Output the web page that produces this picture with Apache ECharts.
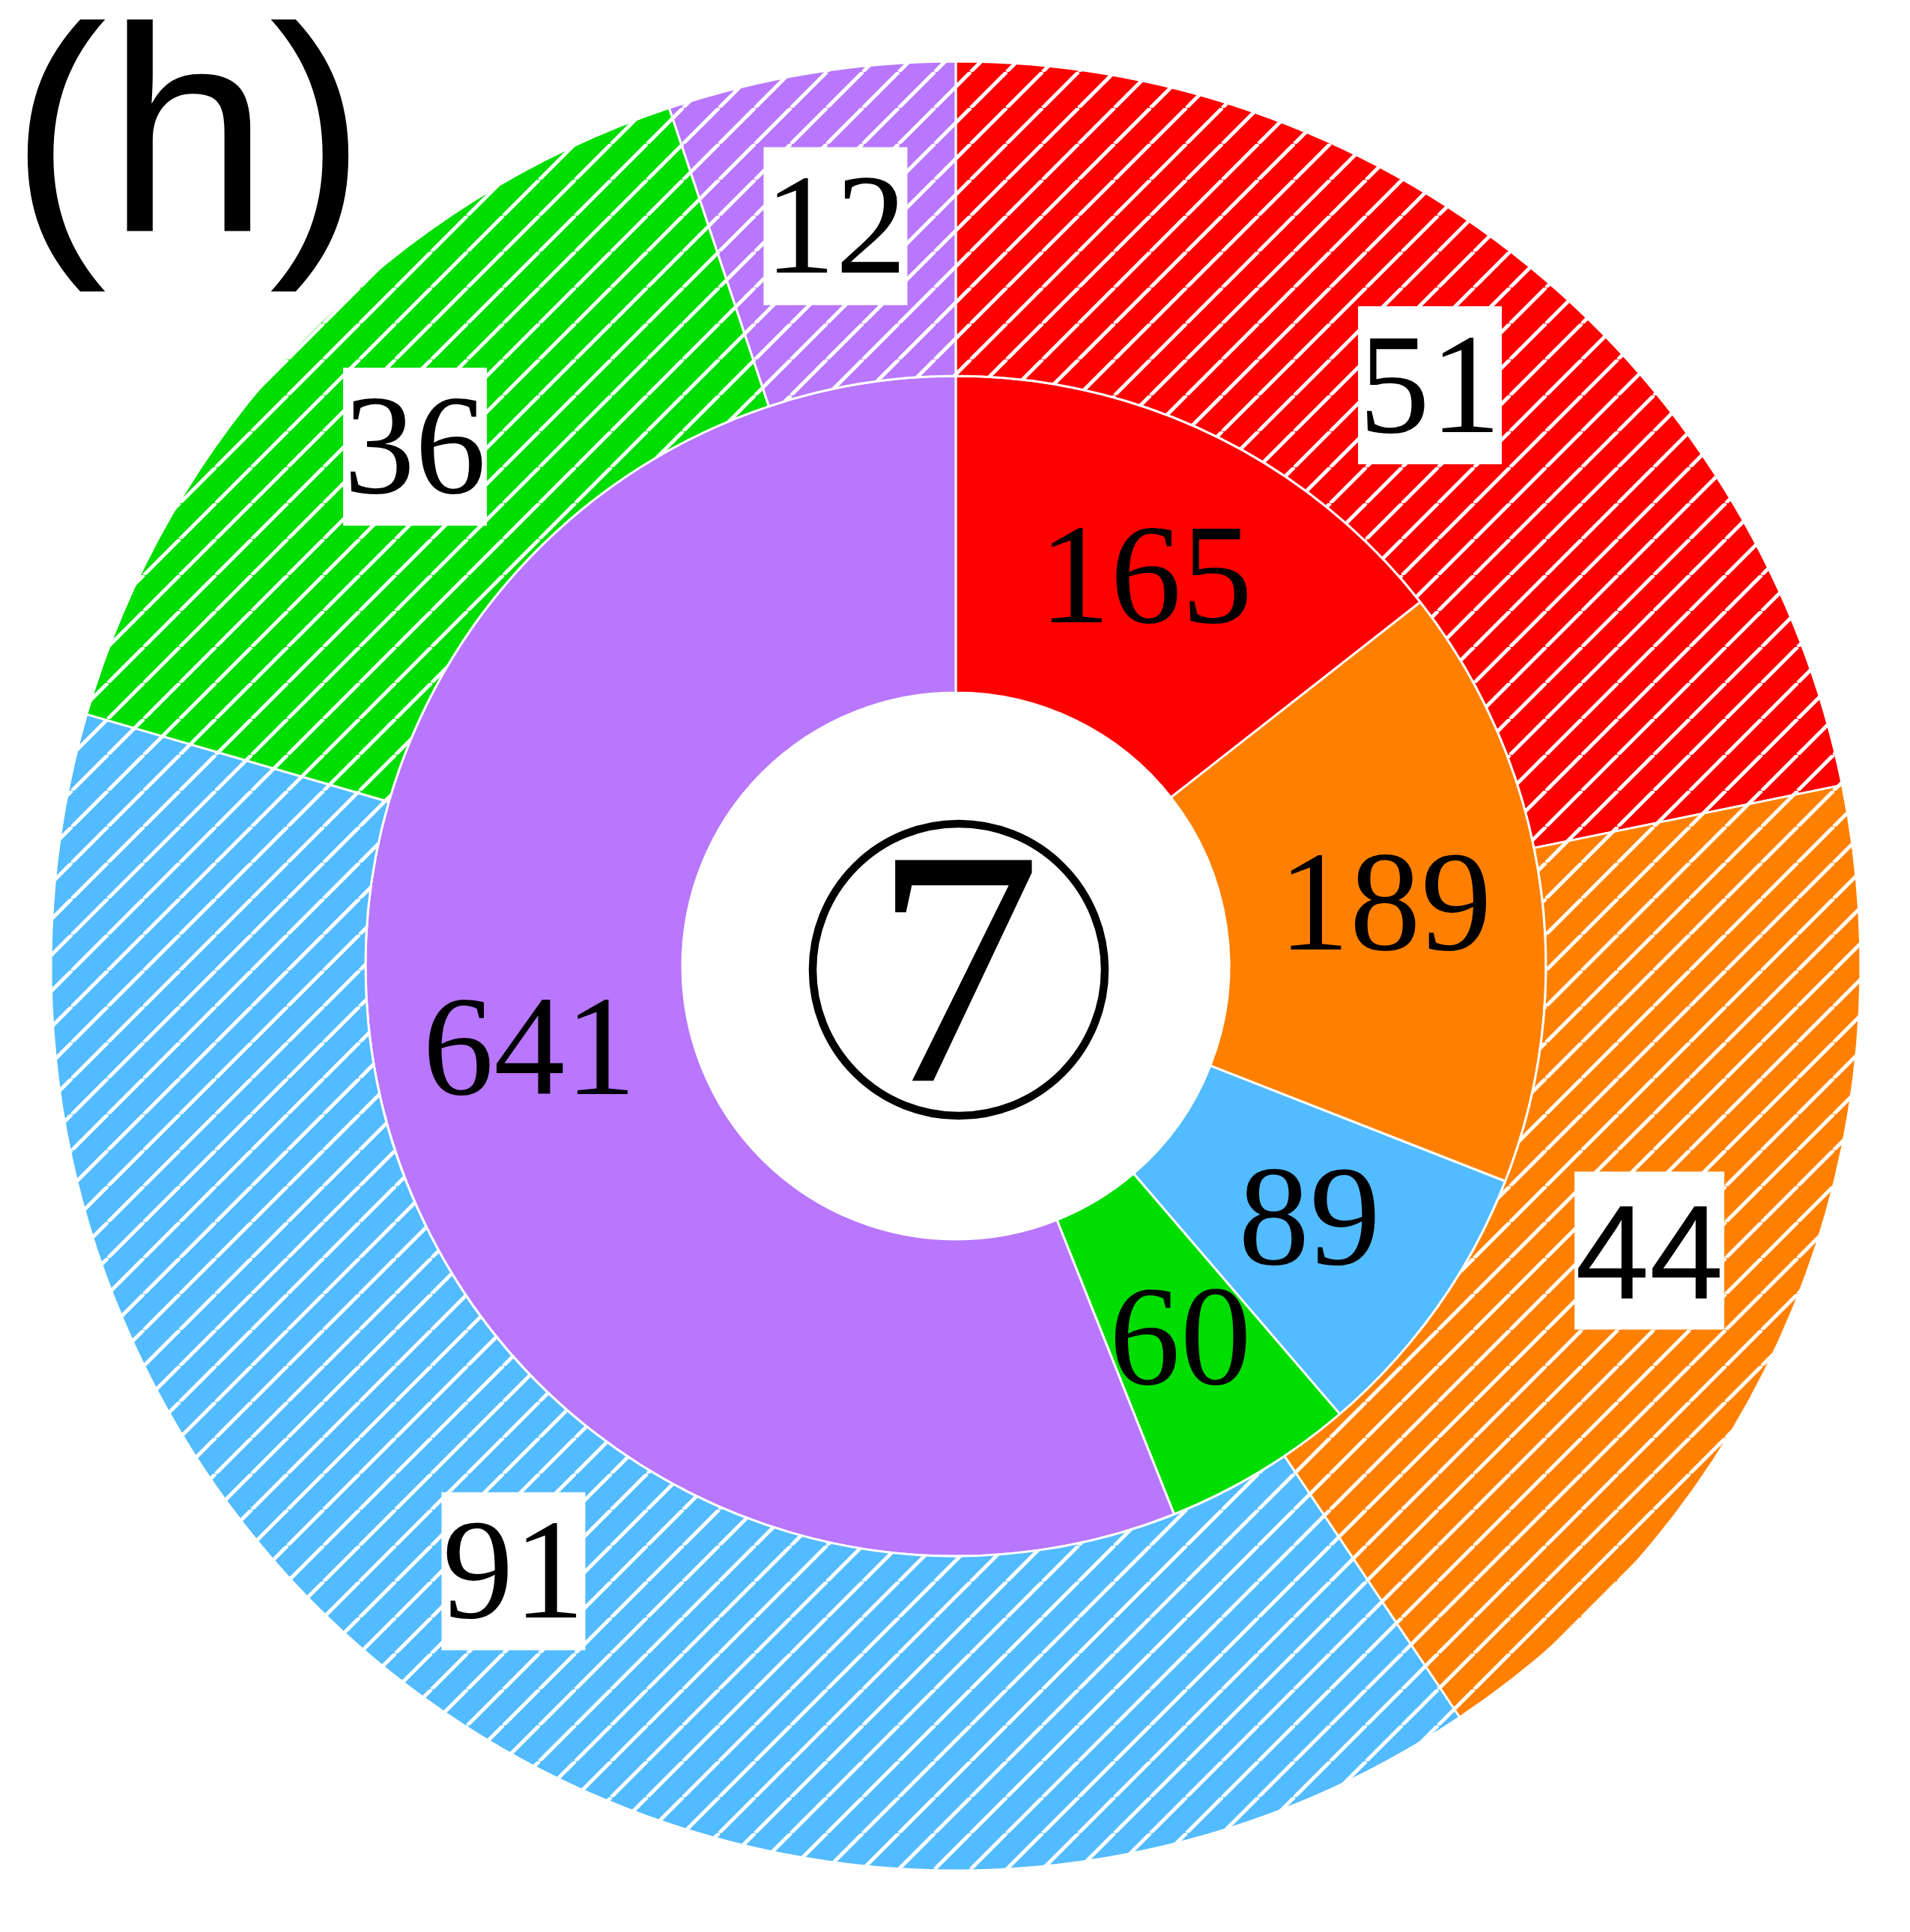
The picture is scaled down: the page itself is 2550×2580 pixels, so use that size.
<!DOCTYPE html>
<html>
<head>
<meta charset="utf-8">
<script src="https://cdn.jsdelivr.net/npm/echarts@6/dist/echarts.min.js"></script>
<style>
html,body{margin:0;padding:0;background:#fff;}
#chart{width:2550px;height:2580px;}
#warm{position:absolute;left:0;top:0;opacity:0;pointer-events:none;white-space:nowrap;}
</style>
</head>
<body>
<div id="warm">
  <span style="font-family:'Liberation Serif';font-size:60px">0123456789 7</span>
  <span style="font-family:'Liberation Sans';font-size:60px">(h) 44</span>
</div>
<div id="chart"></div>
<script>
// ---- data ----
const categories = ['Group 1', 'Group 2', 'Group 3', 'Group 4', 'Group 5'];
const innerValues = [165, 189, 89, 60, 641];
const outerValues = [51, 44, 91, 36, 12];
const seriesColors = ['#FF0000', '#FF8000', '#53BBFF', '#00DD00', '#B877FC'];
const panelLabel = '(h)';
const centerLabel = '7';

// ---- hatch pattern ----
function hatch(color) {
  const s = 48;
  const c = document.createElement('canvas');
  c.width = s; c.height = s;
  const ctx = c.getContext('2d');
  ctx.fillStyle = color;
  ctx.fillRect(0, 0, s, s);
  ctx.strokeStyle = '#ffffff';
  ctx.lineWidth = 5;
  for (const k of [-s, 0, s]) {
    ctx.beginPath();
    ctx.moveTo(k, s);
    ctx.lineTo(k + s, 0);
    ctx.stroke();
  }
  return { image: c, repeat: 'repeat' };
}

const cx = 1276, cy = 1290;
const rHole = 365, rMid = 788, rOuter = 1208;
const INNER_FONT = 190;
const INNER_SHIFT = 12;

const chart = echarts.init(document.getElementById('chart'), null, { renderer: 'canvas' });

function buildGraphic(SERIF, SANS) {
  return [
    {
      id: 'ring', type: 'circle', silent: true,
      shape: { cx: 1280, cy: 1295, r: 195 },
      style: { fill: 'none', stroke: '#000000', lineWidth: 10.5 }
    },
    {
      id: 'center', type: 'text', silent: true, x: 1278, y: 1325,
      style: {
        text: centerLabel, font: '450px ' + SERIF, fill: '#000000',
        textAlign: 'center', textVerticalAlign: 'middle'
      }
    },
    {
      id: 'panel', type: 'text', silent: true, x: 251, y: 201,
      style: {
        text: panelLabel, font: '390px ' + SANS, fill: '#000000',
        textAlign: 'center', textVerticalAlign: 'middle'
      }
    }
  ];
}

function render(SERIF, SANS) {
  const sansToken = { fontFamily: SANS, fontSize: 178, color: '#000000', height: 170, padding: [35.5, 0, 5.5, 0] };
  const innerData = categories.map((n, i) => ({
    name: n, value: innerValues[i],
    itemStyle: { color: seriesColors[i] }
  }));
  const outerData = categories.map((n, i) => {
    const d = { name: n + ' outer', value: outerValues[i], itemStyle: { color: hatch(seriesColors[i]) } };
    if (i === 1) d.label = { formatter: '{s|{c}}', fontFamily: SANS, rich: { s: sansToken } };
    return d;
  });
  const baseGraphic = buildGraphic(SERIF, SANS);
  chart.setOption({
    animation: false,
    backgroundColor: '#ffffff',
    series: [
      {
        type: 'pie',
        center: [cx, cy],
        radius: [rHole, rMid],
        startAngle: 90,
        clockwise: true,
        silent: true,
        data: innerData,
        itemStyle: { borderColor: '#ffffff', borderWidth: 3 },
        label: {
          show: true, position: 'inside', formatter: '{c}',
          fontFamily: SERIF, fontSize: INNER_FONT, color: '#000000',
          offset: [0, INNER_SHIFT]
        },
        labelLine: { show: false },
        emphasis: { disabled: true }
      },
      {
        type: 'pie',
        center: [cx, cy],
        radius: [rMid, rOuter],
        startAngle: 90,
        clockwise: true,
        silent: true,
        data: outerData,
        itemStyle: { borderColor: '#ffffff', borderWidth: 3 },
        label: {
          show: true, position: 'inside', formatter: '{t|{c}}',
          fontFamily: SERIF, fontSize: 190, color: '#000000',
          backgroundColor: '#ffffff', padding: [0, 1, 0, 1],
          rich: {
            t: { fontFamily: SERIF, fontSize: 190, color: '#000000', height: 170, padding: [32.5, 0, 8.5, 0] },
            s: sansToken
          }
        },
        labelLine: { show: false },
        emphasis: { disabled: true }
      }
    ],
    graphic: baseGraphic
  }, true);

  // ECharts hides an inside label that does not fit its narrow sector; draw such
  // labels at the spot the library computed for them.
  try {
    const extra = [];
    const sd = chart.getModel().getSeriesByIndex(0).getData();
    sd.each(function (idx) {
      const el = sd.getItemGraphicEl(idx);
      const lb = el && el.getTextContent && el.getTextContent();
      if (!lb || !lb.ignore) return;
      extra.push({
        id: 'lbl' + idx, type: 'text', silent: true, z: 100,
        x: lb.x, y: lb.y,
        style: {
          text: String(sd.get('value', idx)), font: INNER_FONT + 'px ' + SERIF,
          fill: '#000000', textAlign: 'center', textVerticalAlign: 'middle'
        }
      });
    });
    if (extra.length) chart.setOption({ graphic: baseGraphic.concat(extra) });
  } catch (e) { /* ignore */ }
}

render('"Liberation Serif", "Times New Roman", serif', '"Liberation Sans", Arial, sans-serif');
if (document.fonts && document.fonts.load) {
  Promise.all([
    document.fonts.load('190px "Liberation Serif"', '0123456789'),
    document.fonts.load('190px "Liberation Sans"', '(h)44')
  ]).then(function () {
    render('"Liberation Serif", Times, serif', '"Liberation Sans", Helvetica, sans-serif');
  }).catch(function () {});
}
</script>
</body>
</html>
